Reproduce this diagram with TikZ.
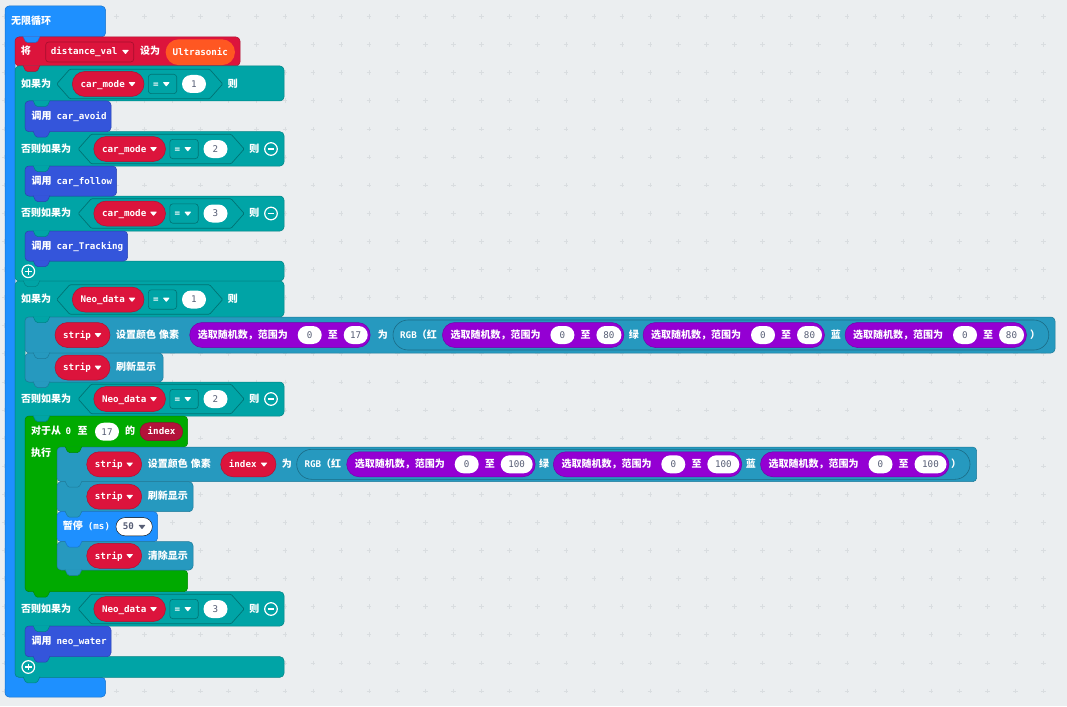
\documentclass[tikz,border=0pt]{standalone}
\usepackage{fontspec}
\setmainfont{Noto Sans CJK SC}
\newfontfamily\codefam{DejaVu Sans Mono}
\usetikzlibrary{shapes}

\definecolor{bgc}{HTML}{EBEEF0}
\definecolor{gridc}{HTML}{D9DDE0}
\definecolor{basicblue}{HTML}{1E90FF}
\definecolor{varred}{HTML}{DC143C}
\definecolor{idxred}{HTML}{B3123A}
\definecolor{logicteal}{HTML}{00A4A6}
\definecolor{funcblue}{HTML}{3455DB}
\definecolor{mathpurple}{HTML}{9400D3}
\definecolor{loopgreen}{HTML}{00AA00}
\definecolor{neoblue}{HTML}{2699BF}
\definecolor{sonarorange}{HTML}{FF5722}
\definecolor{numgrey}{HTML}{575E75}

\newcommand{\cjkfont}{\bfseries\fontsize{10}{12}\selectfont}
\newcommand{\codefont}{\codefam\bfseries\fontsize{9.2}{11}\selectfont}
\newcommand{\numfont}{\codefam\fontsize{9.2}{11}\selectfont}
\newcommand{\ddtri}[3][white]{\fill[#1, rounded corners=0.6pt] (#2-3.5,#3-1.8) -- (#2+3.5,#3-1.8) -- (#2,#3+2.6) -- cycle;}
\newcommand{\notchtab}[3]{\draw[#3, rounded corners=1.5pt] (#1+8,#2-0.6) -- (#1+11,#2+5.5) -- (#1+22,#2+5.5) -- (#1+25,#2-0.6);}
\newcommand{\dropvar}[5]{\draw[varpill] (#2,#4-12.5) rectangle (#3,#4+12.5);
  \node[lbl] (#1) at (#2+8,#4) {\codefont #5};
  \ddtri{#3-12}{#4}}
\newcommand{\hexslot}[3]{\draw[hexb] (#1,#3) -- (#1+13,#3-14.7) -- (#2-13,#3-14.7) -- (#2,#3) -- (#2-13,#3+14.7) -- (#1+13,#3+14.7) -- cycle;}
\newcommand{\eqdrop}[3]{\draw[eqbox] (#2,#3-9.7) rectangle (#2+28.4,#3+9.7);
  \node[lbl] (#1) at (#2+4.5,#3) {\codefont =};
  \ddtri{#2+18}{#3}}
\newcommand{\condrow}[5]{\hexslot{56.7+#2}{222.7+#2}{#3}
  \dropvar{#1v}{72.3+#2}{144+#2}{#3}{#4}
  \eqdrop{#1e}{148.3+#2}{#3}
  \node[num, minimum width=24pt] (#1n) at (194+#2,#3) {#5};
  \node[lbl] (#1z) at (227.7+#2,#3) {则};}
\newcommand{\randpill}[5]{\draw[mathpill] (#2,#3-12.5) rectangle (#2+156.5+#5,#3+12.5);
  \node[lbl] (#1t) at (#2+8,#3) {选取随机数，范围为};
  \node[num, minimum width=24pt] (#1a) at (#2+120,#3) {0};
  \node[lbl] (#1z) at (#2+138,#3) {至};
  \node[num, minimum width=#5pt] (#1b) at (#2+154+#5/2,#3) {#4};}
\newcommand{\remcirc}[2]{\draw[white, line width=1.2pt] (#1,#2) circle (6.3pt);
  \draw[white, line width=1.6pt] (#1-3.3,#2) -- (#1+3.3,#2);}
\newcommand{\addcirc}[2]{\remcirc{#1}{#2}
  \draw[white, line width=1.6pt] (#1,#2-3.3) -- (#1,#2+3.3);}

\begin{document}
\begin{tikzpicture}[x=1pt,y=-1pt,
  blk/.style={rounded corners=4pt, line width=0.5pt},
  basic/.style={blk, fill=basicblue, draw=basicblue!80!black},
  varb/.style={blk, fill=varred, draw=varred!80!black},
  logic/.style={blk, fill=logicteal, draw=logicteal!80!black},
  func/.style={blk, fill=funcblue, draw=funcblue!80!black},
  neo/.style={blk, fill=neoblue, draw=neoblue!80!black},
  loopg/.style={blk, fill=loopgreen, draw=loopgreen!80!black},
  vardrop/.style={rounded corners=3pt, fill=varred, draw=varred!75!black, line width=0.6pt},
  eqbox/.style={rounded corners=3pt, fill=logicteal, draw=logicteal!70!black, line width=0.6pt},
  hexb/.style={rounded corners=1pt, fill=logicteal, draw=logicteal!70!black, line width=0.7pt},
  varpill/.style={rounded corners=12.5pt, fill=varred, draw=varred!80!black, line width=0.5pt},
  idxpill/.style={rounded corners=9pt, fill=idxred, draw=idxred!80!black, line width=0.5pt},
  mathpill/.style={rounded corners=12.5pt, fill=mathpurple, draw=mathpurple!80!black, line width=0.5pt},
  rgbbox/.style={rounded corners=15pt, fill=neoblue, draw=neoblue!70!black, line width=0.6pt},
  numbox/.style={rounded corners=9pt, fill=white},
  sonar/.style={rounded corners=12.8pt, fill=sonarorange, minimum width=69.3pt, minimum height=25.7pt, inner sep=0pt, text=white, font=\codefont, text height=7pt, text depth=0pt},
  num/.style={rounded corners=9pt, fill=white, minimum height=18pt, inner sep=0pt, text=numgrey, font=\numfont, text height=6.6pt, text depth=0pt},
  lbl/.style={anchor=west, inner sep=0pt, text=white, font=\cjkfont, text height=8pt, text depth=1.5pt},
  gridmark/.style={gridc, line width=0.6pt}]
\useasboundingbox (0,0) rectangle (1067,706);
\fill[bgc] (0,0) rectangle (1067,706);
\foreach \i in {0,...,37}
  \foreach \j in {0,...,24}
    \draw[gridmark] (3.8+28.1*\i-2.3,16.5+28.1*\j) -- ++(4.6,0) (3.8+28.1*\i,16.5+28.1*\j-2.3) -- ++(0,4.6);

\draw[basic] (5,6) -- (105.5,6) -- (105.5,37) -- (15,37) -- (15,677.3) -- (105.5,677.3) -- (105.5,697) -- (5,697) -- cycle;
\node[lbl] (forever) at (11,21.7) {无限循环};

\draw[varb] (15,37) rectangle (240,66);
\node[lbl] (setlbl) at (20.7,51.7) {将};
\draw[vardrop] (45.7,42) rectangle (133.7,62);
\node[lbl] (setvar) at (50.7,51.7) {\codefont distance\_val};
\ddtri{125.5}{51.7}
\node[lbl] (setto) at (140,51.7) {设为};
\node[sonar] (sonar) at (200.3,52.2) {Ultrasonic};

\draw[logic] (15,66) -- (284,66) -- (284,101) -- (25,101) -- (25,131.7) -- (284,131.7) -- (284,166) -- (25,166) -- (25,196) -- (284,196) -- (284,231) -- (25,231) -- (25,261) -- (284,261) -- (284,281) -- (15,281) -- cycle;
\node[lbl] (ifa) at (21,84) {如果为};
\condrow{ca}{0}{84}{car\_mode}{1}
\node[lbl] (ifb) at (21,149) {否则如果为};
\condrow{cb}{21.5}{149}{car\_mode}{2}
\remcirc{271}{149}
\node[lbl] (ifc) at (21,213.5) {否则如果为};
\condrow{cc}{21.5}{213.5}{car\_mode}{3}
\remcirc{271}{213.5}
\addcirc{28.3}{271.3}

\draw[func] (25,101) rectangle (111,131.7);
\node[lbl] (avoid) at (31.5,116.4) {调用\hspace{5pt}{\codefont car\_avoid}};
\draw[func] (25,166) rectangle (116.7,196);
\node[lbl] (follow) at (31.5,181) {调用\hspace{5pt}{\codefont car\_follow}};
\draw[func] (25,231) rectangle (127.7,261);
\node[lbl] (tracking) at (31.5,246) {调用\hspace{5pt}{\codefont car\_Tracking}};

\draw[logic] (15,281) -- (284,281) -- (284,317) -- (25,317) -- (25,382) -- (284,382) -- (284,416) -- (25,416) -- (25,591.7) -- (284,591.7) -- (284,626) -- (25,626) -- (25,656.7) -- (284,656.7) -- (284,677.3) -- (15,677.3) -- cycle;
\node[lbl] (neoa) at (21,299.5) {如果为};
\condrow{na}{0}{299.5}{Neo\_data}{1}
\node[lbl] (neob) at (21,399) {否则如果为};
\condrow{nb}{21.5}{399}{Neo\_data}{2}
\remcirc{271}{399}
\node[lbl] (neoc) at (21,609) {否则如果为};
\condrow{nc}{21.5}{609}{Neo\_data}{3}
\remcirc{271}{609}
\addcirc{28.3}{667}

\draw[neo] (25,317) rectangle (1055,353);
\dropvar{spas}{55}{110}{335}{strip}
\node[lbl] (spaa) at (116,335) {设置颜色\hspace{3pt}像素};
\randpill{ra}{189.7}{335}{17}{24}
\node[lbl] (spab) at (377.6,335) {为};
\draw[rgbbox] (393,320) rectangle (1048.8,350);
\node[lbl] (spac) at (400,335) {{\codefont RGB}（红};
\randpill{rb}{442.4}{335}{80}{25}
\node[lbl] (spag) at (628.6,335) {绿};
\randpill{rc}{643}{335}{80}{25}
\node[lbl] (spah) at (830.7,335) {蓝};
\randpill{rd}{845}{335}{80}{25}
\node[lbl] (spae) at (1030,335) {）};

\draw[neo] (25,353) rectangle (163,382);
\dropvar{shas}{55}{110}{367.5}{strip}
\node[lbl] (sha) at (116,367.5) {刷新显示};

\draw[loopg] (25,416) -- (187.7,416) -- (187.7,447) -- (57,447) -- (57,570) -- (187.7,570) -- (187.7,591.7) -- (25,591.7) -- cycle;
\node[lbl] (fora) at (31,431.7) {对于从\hspace{4.5pt}{\codefont 0}\hspace{6.5pt}至};
\node[num, minimum width=24pt] (forn) at (107,431.7) {17};
\node[lbl] (forb) at (125,431.7) {的};
\draw[idxpill] (140,422.7) rectangle (182.7,440.7);
\node[lbl] (foridx) at (147.5,431.7) {\codefont index};
\node[lbl] (forc) at (31,453.3) {执行};

\draw[neo] (57,447) rectangle (976.7,481.7);
\dropvar{spbs}{86.7}{141.7}{464.3}{strip}
\node[lbl] (spba) at (147.7,464.3) {设置颜色\hspace{3pt}像素};
\dropvar{spbi}{220.7}{276}{464.3}{index}
\node[lbl] (spbb) at (281.7,464.3) {为};
\draw[rgbbox] (296.7,449.3) rectangle (970,479.3);
\node[lbl] (spbc) at (304.3,464.3) {{\codefont RGB}（红};
\randpill{qa}{346.7}{464.3}{100}{32}
\node[lbl] (spbg) at (539,464.3) {绿};
\randpill{qb}{553.3}{464.3}{100}{32}
\node[lbl] (spbh) at (745.7,464.3) {蓝};
\randpill{qc}{760.5}{464.3}{100}{32}
\node[lbl] (spbe) at (951,464.3) {）};

\draw[neo] (57,481.7) rectangle (193,511.7);
\dropvar{shbs}{86.7}{141.7}{496.7}{strip}
\node[lbl] (shb) at (147.7,496.7) {刷新显示};
\draw[basic] (57,511.7) rectangle (157.7,541.7);
\node[lbl] (pause) at (62.7,526.7) {暂停\hspace{5pt}{\codefont (ms)}};
\draw[numbox] (116,517.6) rectangle (152.3,535.8);
\node[lbl, text=numgrey] (pausen) at (122.7,526.7) {\numfont 50};
\ddtri[numgrey]{142}{526.7}
\draw[neo] (57,541.7) rectangle (193,570);
\dropvar{clrs}{86.7}{141.7}{555.8}{strip}
\node[lbl] (clr) at (147.7,555.8) {清除显示};

\draw[func] (25,626) rectangle (111,656.7);
\node[lbl] (water) at (31.5,641.3) {调用\hspace{5pt}{\codefont neo\_water}};

\notchtab{15}{37}{basic}
\notchtab{15}{66}{varb}
\notchtab{25}{101}{logic}
\notchtab{25}{131.7}{func}
\notchtab{25}{166}{logic}
\notchtab{25}{196}{func}
\notchtab{25}{231}{logic}
\notchtab{25}{261}{func}
\notchtab{15}{281}{logic}
\notchtab{25}{317}{logic}
\notchtab{25}{353}{neo}
\notchtab{25}{382}{neo}
\notchtab{25}{416}{logic}
\notchtab{57}{447}{loopg}
\notchtab{57}{481.7}{neo}
\notchtab{57}{511.7}{neo}
\notchtab{57}{541.7}{basic}
\notchtab{57}{570}{neo}
\notchtab{25}{591.7}{loopg}
\notchtab{25}{626}{logic}
\notchtab{25}{656.7}{func}
\notchtab{15}{677.3}{logic}
\end{tikzpicture}
\end{document}
